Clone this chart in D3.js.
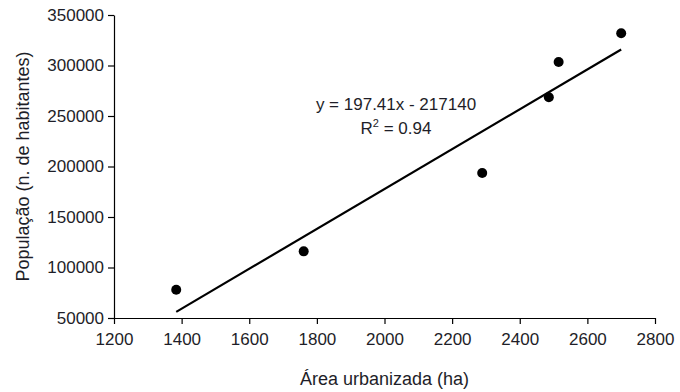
<!DOCTYPE html>
<html>
<head>
<meta charset="utf-8">
<script src="https://cdn.jsdelivr.net/npm/d3@7"></script>
<style>
  body { margin: 0; background: #fff; }
  svg { font-family: "Liberation Sans", Arial, sans-serif; }
</style>
</head>
<body>
<div id="chart"></div>
<script>
// data
const area = [1384, 1761, 2289, 2486, 2515, 2700];
const populacao = [78000, 116000, 193500, 268500, 303500, 332000];
const xTicks = [1200, 1400, 1600, 1800, 2000, 2200, 2400, 2600, 2800];
const yTicks = [50000, 100000, 150000, 200000, 250000, 300000, 350000];
const trend = { slope: 197.41, intercept: -217140, r2: 0.94 };

const width = 680;
const height = 392;
const margin = { top: 15, right: 25, bottom: 74, left: 114 };

const svg = d3.select('#chart')
  .append('svg')
  .attr('width', width)
  .attr('height', height);

const x = d3.scaleLinear()
  .domain([1200, 2800])
  .range([margin.left, width - margin.right]);

const y = d3.scaleLinear()
  .domain([50000, 350000])
  .range([height - margin.bottom, margin.top]);

const textColor = '#1e1e28';

// axes
const xAxis = svg.append('g')
  .attr('transform', `translate(0,${height - margin.bottom})`)
  .call(d3.axisBottom(x).tickValues(xTicks).tickSize(6).tickSizeOuter(0).tickFormat(d3.format('d')));

const yAxis = svg.append('g')
  .attr('transform', `translate(${margin.left},0)`)
  .call(d3.axisLeft(y).tickValues(yTicks).tickSize(6).tickSizeOuter(0).tickFormat(d3.format('d')));

[xAxis, yAxis].forEach(g => {
  g.select('.domain').attr('stroke', '#000').attr('stroke-width', 1.2);
  g.selectAll('.tick line').attr('stroke', '#000').attr('stroke-width', 1.2);
  g.selectAll('.tick text')
    .attr('fill', textColor)
    .style('font-size', '17px')
    .style('font-family', '"Liberation Sans", Arial, sans-serif');
});
xAxis.selectAll('.tick text').attr('dy', '1.05em');
yAxis.selectAll('.tick text').attr('x', -10);

// trend line over the range of the data
const xExt = d3.extent(area);
const line = d3.line()
  .x(d => x(d))
  .y(d => y(trend.slope * d + trend.intercept));

svg.append('path')
  .datum(xExt)
  .attr('d', line)
  .attr('fill', 'none')
  .attr('stroke', '#000')
  .attr('stroke-width', 2.2);

// points
svg.selectAll('circle.pt')
  .data(area.map((a, i) => ({ a, p: populacao[i] })))
  .enter()
  .append('circle')
  .attr('class', 'pt')
  .attr('cx', d => x(d.a))
  .attr('cy', d => y(d.p))
  .attr('r', 5)
  .attr('fill', '#000');

// equation
const eqX = 396;
svg.append('text')
  .attr('x', eqX)
  .attr('y', 110)
  .attr('text-anchor', 'middle')
  .attr('fill', textColor)
  .style('font-size', '17px')
  .text(`y = ${trend.slope}x - ${Math.abs(trend.intercept)}`);

const r2 = svg.append('text')
  .attr('x', eqX)
  .attr('y', 134)
  .attr('text-anchor', 'middle')
  .attr('fill', textColor)
  .style('font-size', '17px');
r2.append('tspan').text('R');
r2.append('tspan').attr('dy', -7).style('font-size', '11px').text('2');
r2.append('tspan').attr('dy', 7).text(` = ${trend.r2}`);

// axis titles
svg.append('text')
  .attr('x', (margin.left + width - margin.right) / 2)
  .attr('y', 385)
  .attr('text-anchor', 'middle')
  .attr('fill', textColor)
  .style('font-size', '18px')
  .text('Área urbanizada (ha)');

svg.append('text')
  .attr('transform', `translate(29,${(margin.top + height - margin.bottom) / 2}) rotate(-90)`)
  .attr('text-anchor', 'middle')
  .attr('fill', textColor)
  .style('font-size', '18px')
  .text('População (n. de habitantes)');
</script>
</body>
</html>
